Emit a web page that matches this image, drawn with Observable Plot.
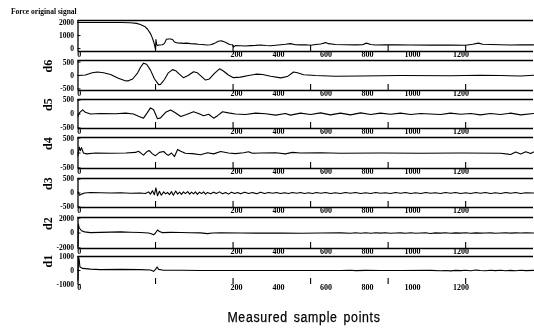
<!DOCTYPE html>
<html><head><meta charset="utf-8">
<script src="https://cdn.jsdelivr.net/npm/d3@7"></script>
<script src="https://cdn.jsdelivr.net/npm/@observablehq/plot@0.6"></script>
<style>
body{margin:0;background:#fff;}
#c{position:relative;width:534px;height:329px;overflow:hidden;background:#fff;filter:grayscale(100%);}
#c svg{position:absolute;left:0;overflow:visible;}
#c g[aria-label="xlab"] text{letter-spacing:-1px;}
.title{position:absolute;left:11px;top:7px;font:bold 7.5px "Liberation Serif",serif;white-space:nowrap;color:#000;}
.xtitle{position:absolute;left:0;width:608px;text-align:center;top:309px;font:14px "Liberation Sans Narrow","Liberation Sans",sans-serif;letter-spacing:0.8px;word-spacing:2px;color:#000;white-space:nowrap;transform:scaleX(0.88);transform-origin:304px 50%;-webkit-text-stroke:0.25px #000;}
</style></head>
<body><div id="c"></div>
<script>
// ---- data (sample index, value) ----
const titleText = "Force original signal";
const xTitle = "Measured sample points";
const panelNames = ["", "d6", "d5", "d4", "d3", "d2", "d1"];

const xTickValues = [200, 400, 600, 800, 1000];
const xTickLabels = ["0", "200", "400", "600", "800", "1000", "1200"];
const xTickLabelAt = [3, 409, 517, 640, 747, 863, 988];

const yTicks = [[0, 1000, 2000], [-500, 0, 500], [-500, 0, 500], [-500, 0, 500], [-500, 0, 500], [-2000, 0, 2000], [-1000, 0, 1000]];
const yDomains = [[-220, 2150], [-560, 560], [-520, 520], [-520, 520], [-520, 520], [-2080, 2080], [-1000, 1000]];

const force = [[0,2000],[58,2000],[110,1995],[135,1975],[151,1930],[161,1850],[172,1700],[179,1500],[187,1150],[192,800],[196,450],[199,50],[200,-60],[201,700],[203,300],[205,250],[210,280],[218,300],[223,400],[228,720],[233,740],[239,740],[244,700],[249,500],[257,430],[265,420],[272,400],[280,420],[290,380],[301,360],[311,330],[321,310],[332,280],[342,300],[352,400],[362,560],[370,600],[380,480],[391,320],[399,300],[401,120],[406,230],[419,220],[432,200],[445,230],[458,250],[471,280],[484,240],[497,220],[510,260],[523,300],[535,330],[548,380],[561,300],[574,290],[587,300],[600,260],[613,320],[626,350],[639,460],[646,380],[664,320],[690,300],[716,290],[734,300],[744,420],[755,320],[768,280],[793,290],[819,300],[858,280],[909,270],[961,280],[1000,260],[1018,330],[1033,420],[1044,330],[1064,310],[1090,300],[1116,280],[1142,300],[1175,290]];

const d6 = [[0,0],[19,20],[37,100],[50,130],[66,100],[84,40],[104,-100],[120,-190],[130,-200],[141,-130],[154,100],[161,300],[169,460],[177,420],[187,200],[197,-120],[208,-340],[213,-330],[223,-150],[233,100],[244,220],[252,180],[262,40],[272,-80],[285,10],[298,140],[308,100],[319,-40],[329,-170],[339,-130],[352,80],[365,250],[375,170],[388,20],[401,-80],[419,-60],[440,0],[461,50],[476,40],[497,-30],[523,-90],[540,-40],[556,130],[566,100],[582,30],[613,0],[664,-30],[729,-20],[832,0],[961,-10],[1038,10],[1090,0],[1142,-20],[1175,10]];

const d5 = [[0,-80],[4,50],[12,150],[19,60],[32,0],[58,20],[97,10],[123,30],[143,0],[156,-80],[169,-150],[179,50],[187,220],[195,150],[205,-170],[213,-140],[226,60],[239,140],[249,60],[265,-90],[280,-20],[298,80],[311,20],[324,-60],[337,-10],[350,-150],[360,-60],[373,80],[388,40],[406,0],[432,-20],[458,30],[484,10],[510,-40],[535,20],[548,-40],[574,30],[600,-20],[626,40],[651,-30],[677,30],[703,-30],[729,40],[755,-20],[780,30],[806,-10],[832,30],[858,-20],[884,20],[909,0],[935,-20],[961,30],[987,-10],[1013,20],[1038,-30],[1064,20],[1090,-20],[1116,30],[1142,-30],[1175,20]];

const d4 = [[0,-100],[3,200],[6,80],[9,180],[14,0],[22,-30],[45,0],[84,-10],[123,0],[148,20],[156,60],[164,-20],[169,-70],[179,60],[184,80],[192,-30],[200,-90],[210,20],[221,50],[228,-40],[233,-80],[241,0],[249,-120],[257,120],[265,60],[277,-10],[295,-20],[316,-60],[334,10],[350,-30],[368,50],[388,0],[406,-20],[427,10],[440,40],[450,-10],[471,0],[510,10],[535,-30],[553,20],[574,0],[626,10],[677,-10],[780,0],[884,-10],[987,0],[1090,-10],[1116,-50],[1129,30],[1142,-30],[1155,40],[1168,-20],[1175,30]];

const d3 = [[0,40],[4,-80],[9,-40],[17,0],[32,20],[58,10],[84,0],[110,10],[135,-10],[161,0],[174,-20],[182,40],[187,-40],[192,80],[197,-60],[201,180],[205,-100],[210,60],[215,-80],[221,40],[226,-30],[231,20],[236,-60],[241,50],[246,-80],[252,70],[257,-40],[262,30],[267,-50],[272,40],[277,-20],[283,50],[288,-40],[293,30],[298,-30],[303,40],[308,-50],[313,30],[319,-20],[324,40],[329,-40],[334,20],[342,-30],[350,30],[357,-20],[365,40],[373,-30],[381,20],[388,-40],[396,30],[404,-20],[412,20],[419,-30],[430,30],[440,-20],[450,20],[461,-30],[471,30],[481,-20],[492,20],[502,-10],[512,20],[522,-20],[533,10],[543,-20],[553,20],[564,-10],[574,20],[584,-20],[595,10],[605,-20],[615,20],[626,-10],[639,20],[651,-20],[664,10],[677,-20],[690,20],[703,-10],[716,20],[729,-20],[742,10],[755,-20],[768,20],[780,-10],[793,10],[806,-20],[819,20],[832,-10],[845,20],[858,-20],[871,10],[884,-20],[897,20],[909,-10],[922,10],[935,-20],[948,20],[961,-10],[974,20],[987,-20],[1000,10],[1013,-20],[1026,20],[1038,-10],[1051,20],[1064,-20],[1077,10],[1090,-20],[1103,20],[1116,-10],[1129,20],[1142,-20],[1155,10],[1175,0]];

const d2 = [[0,-1800],[1,1200],[3,700],[9,300],[17,150],[32,50],[58,80],[84,120],[110,150],[135,100],[161,60],[182,0],[189,-100],[195,-250],[200,0],[205,400],[210,200],[218,50],[239,80],[265,60],[290,40],[316,20],[334,-80],[347,0],[368,20],[419,0],[471,-20],[523,0],[574,-40],[626,0],[677,20],[703,-40],[716,40],[729,-40],[742,30],[755,-30],[768,40],[780,-20],[793,30],[806,-40],[819,0],[832,20],[845,-30],[858,30],[871,-40],[884,0],[897,30],[909,-60],[922,20],[935,-20],[948,40],[961,-30],[974,20],[987,-20],[1000,30],[1013,-40],[1026,20],[1038,-20],[1051,0],[1064,20],[1077,-30],[1090,10],[1103,30],[1116,-20],[1129,20],[1142,-10],[1155,20],[1175,0]];

const d1 = [[0,-700],[1,1000],[3,800],[5,250],[12,150],[32,100],[58,60],[110,80],[161,60],[187,40],[195,-60],[200,80],[204,250],[208,80],[218,30],[265,20],[316,0],[445,0],[574,0],[677,0],[703,20],[716,-10],[742,10],[780,0],[832,0],[909,10],[935,-20],[948,0],[961,-30],[974,10],[987,-10],[1000,20],[1013,-20],[1026,30],[1038,0],[1051,-20],[1064,20],[1077,-10],[1090,20],[1103,-20],[1116,10],[1129,-20],[1142,20],[1155,-10],[1175,10]];

const series = [force, d6, d5, d4, d3, d2, d1];

// ---- layout (pixel rows of each panel frame) ----
const frames = [[20, 51], [60, 90], [99, 128], [137, 168], [178, 207], [217, 248], [256, 284]];
const W = 534, ML = 77.5, MR = 1, MT = 6, MB = 10;
const serif = "Liberation Serif, Times New Roman, serif";

const c = document.getElementById("c");
const t = document.createElement("div"); t.className = "title"; t.textContent = titleText; c.appendChild(t);

series.forEach((data, i) => {
  const [top, bot] = frames[i];
  const innerH = bot - top;
  const dom = yDomains[i];
  const last = i === series.length - 1;
  const marks = [
    Plot.ruleY(last ? [dom[1]] : dom, {stroke: "#000", strokeWidth: 1.3}),
    Plot.ruleX([0], {stroke: "#000", strokeWidth: 1.3}),
    Plot.tickX(xTickValues, {x: d => d, insetTop: innerH - 6, stroke: "#000", strokeWidth: 1.1}),
    Plot.tickY(yTicks[i], {y: d => d, insetRight: (W - ML - MR) - 3, stroke: "#000"}),
    Plot.line(data, {x: d => d[0], y: d => d[1], stroke: "#000", strokeWidth: 1.1}),
    Plot.text(yTicks[i], {y: d => d, text: d => String(d), frameAnchor: "left", textAnchor: "end", dx: -4, fontSize: 7.5, fontWeight: "bold", fontFamily: serif, fill: "#000"}),
    Plot.text(xTickLabels, {x: (d, j) => xTickLabelAt[j], text: d => d, frameAnchor: "bottom", dy: 5, fontSize: 8, fontWeight: "bold", fontFamily: serif, fill: "#000", ariaLabel: "xlab"})
  ];
  if (panelNames[i]) marks.push(Plot.text([panelNames[i]], {text: d => d, frameAnchor: "left", dx: -29.5, dy: -3, rotate: -90, fontSize: 12, fontWeight: "bold", fontFamily: serif, fill: "#000"}));
  const p = Plot.plot({
    width: W, height: innerH + MT + MB,
    marginLeft: ML, marginRight: MR, marginTop: MT, marginBottom: MB,
    x: {domain: [0, 1175], axis: null},
    y: {domain: dom, axis: null},
    style: {background: "transparent", overflow: "visible"},
    marks
  });
  p.style.top = (top - MT) + "px";
  c.appendChild(p);
});

const xt = document.createElement("div"); xt.className = "xtitle"; xt.textContent = xTitle; c.appendChild(xt);
</script>
</body></html>
